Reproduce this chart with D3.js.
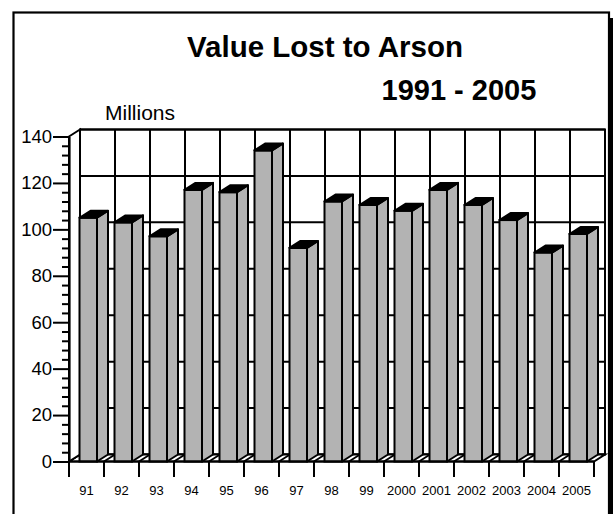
<!DOCTYPE html>
<html>
<head>
<meta charset="utf-8">
<script src="https://cdn.jsdelivr.net/npm/d3@7"></script>
<style>
  body { margin: 0; background: #fff; }
  svg { display: block; }
  text { font-family: "Liberation Sans", Arial, Helvetica, sans-serif; }
</style>
</head>
<body>
<svg id="chart" width="613" height="514"></svg>
<script>
// Annual value lost to arson, in millions
const years = ["91", "92", "93", "94", "95", "96", "97", "98", "99",
               "2000", "2001", "2002", "2003", "2004", "2005"];
const lossMillions = [105, 103, 97, 117, 116, 134, 92, 112, 110.5,
                      108, 117, 110.5, 104, 90, 98];
const majorTicks = [0, 20, 40, 60, 80, 100, 120, 140];
const titleText = "Value Lost to Arson";
const subtitleText = "1991 - 2005";
const unitText = "Millions";

const svg = d3.select("#chart");

// Plot geometry (front plane) and the 3-D depth offset
const x = d3.scaleBand().domain(years).range([69, 594]).padding(0);
const y = d3.scaleLinear().domain([0, 140]).range([461.5, 136.5]);
const DX = 11, DY = -7;
const x0 = x.range()[0], x1 = x.range()[1];
const yb = y(0), yt = y(140);
const bw = x.bandwidth();
const barOffset = bw * 10.5 / 35, barWidth = bw * 17.5 / 35;
const minorTicks = d3.range(0, 141, 4).filter(v => !majorTicks.includes(v));

// Outer frame with drop shadow
svg.append("rect").attr("x", 610).attr("y", 18).attr("width", 6).attr("height", 520).attr("fill", "#000");
svg.append("rect").attr("x", 13.5).attr("y", 12.5).attr("width", 595.5).attr("height", 560)
  .attr("fill", "#fff").attr("stroke", "#000").attr("stroke-width", 2.2);

// Titles
svg.append("text").attr("x", 325).attr("y", 57).attr("text-anchor", "middle")
  .attr("font-weight", "bold").attr("font-size", 29.5).text(titleText);
svg.append("text").attr("x", 381.5).attr("y", 99.5).attr("text-anchor", "start")
  .attr("font-weight", "bold").attr("font-size", 29).text(subtitleText);
svg.append("text").attr("x", 105).attr("y", 120).attr("font-size", 19.5)
  .attr("textLength", 70).attr("lengthAdjust", "spacingAndGlyphs").text(unitText);

const line = (g, xa, ya, xb, yb2) => g.append("line")
  .attr("x1", xa).attr("y1", ya).attr("x2", xb).attr("y2", yb2)
  .attr("stroke", "#000").attr("stroke-width", 2);
const pts = a => a.map(p => p.join(",")).join(" ");

// Back wall with grid
const wall = svg.append("g");
wall.append("rect").attr("x", x0 + DX).attr("y", yt + DY)
  .attr("width", x1 - x0).attr("height", yb - yt)
  .attr("fill", "#fff").attr("stroke", "#000").attr("stroke-width", 2);
years.forEach(c => line(wall, x(c) + DX, yt + DY, x(c) + DX, yb + DY));
majorTicks.forEach(v => line(wall, x0 + DX, y(v) + DY, x1 + DX, y(v) + DY));

// Floor
const floor = svg.append("g");
floor.append("polygon")
  .attr("points", pts([[x0, yb], [x1, yb], [x1 + DX, yb + DY], [x0 + DX, yb + DY]]))
  .attr("fill", "#fff").attr("stroke", "#000").attr("stroke-width", 2);
years.forEach(c => line(floor, x(c), yb, x(c) + DX, yb + DY));

// Left side wall
svg.append("polygon")
  .attr("points", pts([[x0, yt], [x0 + DX, yt + DY], [x0 + DX, yb + DY], [x0, yb]]))
  .attr("fill", "#fff").attr("stroke", "#000").attr("stroke-width", 2);

// 3-D columns
const bars = svg.append("g").selectAll("g")
  .data(years.map((c, i) => ({ year: c, value: lossMillions[i] })))
  .join("g");
bars.each(function (d) {
  const g = d3.select(this);
  const fx = x(d.year) + barOffset, fr = fx + barWidth, top = y(d.value);
  g.append("polygon")
    .attr("points", pts([[fr, top], [fr + DX, top + DY], [fr + DX, yb + DY], [fr, yb]]))
    .attr("fill", "#b3b3b3").attr("stroke", "#000").attr("stroke-width", 2).attr("stroke-linejoin", "round");
  g.append("rect").attr("x", fx).attr("y", top).attr("width", barWidth).attr("height", yb - top)
    .attr("fill", "#b3b3b3").attr("stroke", "#000").attr("stroke-width", 2);
  g.append("polygon")
    .attr("points", pts([[fx, top], [fr, top], [fr + DX, top + DY], [fx + DX, top + DY]]))
    .attr("fill", "#000").attr("stroke", "#000").attr("stroke-width", 2).attr("stroke-linejoin", "round");
});

// Y axis: major ticks with labels, minor ticks
const yAxis = svg.append("g").attr("transform", `translate(${x0},0)`)
  .call(d3.axisLeft(y).tickValues(majorTicks).tickSize(16).tickSizeOuter(0).tickPadding(1).tickFormat(d3.format("d")));
yAxis.attr("font-family", null);
yAxis.select(".domain").attr("stroke-width", 2.2);
yAxis.selectAll(".tick line").attr("stroke-width", 2);
yAxis.selectAll("text").attr("font-size", 18.5).attr("fill", "#000");

const yMinor = svg.append("g").attr("transform", `translate(${x0},0)`)
  .call(d3.axisLeft(y).tickValues(minorTicks).tickSize(7).tickSizeOuter(0).tickFormat(""));
yMinor.select(".domain").remove();
yMinor.selectAll(".tick line").attr("stroke-width", 2);

// X axis: category boundary ticks and centred labels
const xTicks = svg.append("g");
years.concat(["end"]).forEach((c, i) => {
  const xx = i < years.length ? x(c) : x1;
  line(xTicks, xx, yb, xx, yb + 15.5);
});
line(xTicks, x0, yb, x1, yb).attr("stroke-width", 2.2);
const xAxis = svg.append("g").attr("transform", `translate(0,${yb})`)
  .call(d3.axisBottom(x).tickSize(0).tickPadding(24.5));
xAxis.attr("font-family", null);
xAxis.select(".domain").remove();
xAxis.selectAll("text").attr("font-size", 13).attr("fill", "#000");
</script>
</body>
</html>
